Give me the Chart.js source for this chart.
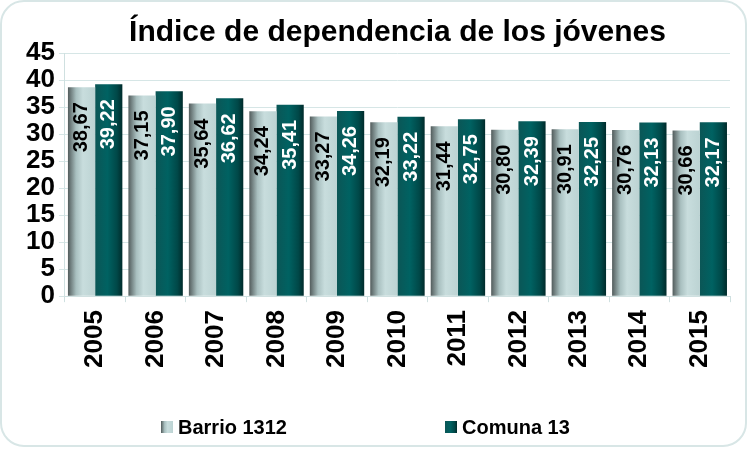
<!DOCTYPE html>
<html>
<head>
<meta charset="utf-8">
<script src="https://cdn.jsdelivr.net/npm/chart.js@4"></script>
<style>
  html, body { margin: 0; padding: 0; background: #fff; }
  #wrap { position: relative; width: 750px; height: 449px; }
  #frame { position: absolute; left: 0; top: 0; width: 743px; height: 443px;
           border: 2px solid #d8e6e6; border-radius: 24px; pointer-events: none; }
</style>
</head>
<body>
<div id="wrap">
  <canvas id="barChart" width="750" height="449"></canvas>
  <div id="frame"></div>
</div>
<script>
const CHART = document.getElementById("barChart");

const years = ["2005", "2006", "2007", "2008", "2009", "2010", "2011", "2012", "2013", "2014", "2015"];
const barrio = [38.67, 37.15, 35.64, 34.24, 33.27, 32.19, 31.44, 30.80, 30.91, 30.76, 30.66];
const comuna = [39.22, 37.90, 36.62, 35.41, 34.26, 33.22, 32.75, 32.39, 32.25, 32.13, 32.17];
const seriesNames = ["Barrio 1312", "Comuna 13"];

// gradient stops for each series (left to right across a bar)
const gradStops = [
    [[0, "#525c5c"], [0.3, "#a9c0c0"], [0.55, "#c8dddd"], [1, "#bcd3d3"]],
    [[0, "#0b5656"], [0.45, "#006262"], [0.8, "#004848"], [1, "#002b2b"]]
];
const labelColors = ["#000", "#fff"];

function makeGrad(ctx, x0, x1, stops) {
    const g = ctx.createLinearGradient(x0, 0, x1, 0);
    stops.forEach(s => g.addColorStop(s[0], s[1]));
    return g;
}

const fmt = v => v.toFixed(2).replace(".", ",");

// paint each bar with a horizontal gradient
const gradientBars = {
    id: "gradientBars",
    beforeDatasetsDraw(chart) {
        const ctx = chart.ctx;
        chart.data.datasets.forEach((ds, i) => {
            chart.getDatasetMeta(i).data.forEach(el => {
                const x0 = el.x - el.width / 2, x1 = el.x + el.width / 2;
                el.options = Object.assign({}, el.options, { backgroundColor: makeGrad(ctx, x0, x1, gradStops[i]) });
            });
        });
    }
};

// vertical value labels inside the bars
const barLabels = {
    id: "barLabels",
    afterDatasetsDraw(chart) {
        const ctx = chart.ctx;
        chart.data.datasets.forEach((ds, i) => {
            chart.getDatasetMeta(i).data.forEach((el, j) => {
                ctx.save();
                ctx.translate(el.x, el.y + 15);
                ctx.rotate(-Math.PI / 2);
                ctx.font = "bold 20px 'Liberation Sans', Arial, sans-serif";
                ctx.fillStyle = labelColors[i];
                ctx.textAlign = "right";
                ctx.textBaseline = "middle";
                ctx.fillText(fmt(ds.data[j]), 0, 0);
                ctx.restore();
            });
        });
    }
};

// legend at the bottom, spaced like the original
const bottomLegend = {
    id: "bottomLegend",
    afterDraw(chart) {
        const ctx = chart.ctx;
        const starts = [161, 445];
        const y = 427;
        chart.data.datasets.forEach((ds, i) => {
            const x = starts[i];
            ctx.save();
            ctx.fillStyle = makeGrad(ctx, x, x + 12, gradStops[i]);
            ctx.fillRect(x, y - 6, 12, 12);
            ctx.font = "bold 20px 'Liberation Sans', Arial, sans-serif";
            ctx.fillStyle = "#000";
            ctx.textAlign = "left";
            ctx.textBaseline = "middle";
            ctx.fillText(ds.label, x + 17, y + 1);
            ctx.restore();
        });
    }
};

const barChart = new Chart(CHART, {
    type: "bar",
    data: {
        labels: years,
        datasets: [
            { label: seriesNames[0], data: barrio, backgroundColor: "#c8dddd", borderWidth: 0 },
            { label: seriesNames[1], data: comuna, backgroundColor: "#006262", borderWidth: 0 }
        ]
    },
    options: {
        responsive: false,
        animation: false,
        layout: { padding: { left: 22, right: 20, top: 0, bottom: 73 } },
        datasets: { bar: { categoryPercentage: 0.9, barPercentage: 1.0 } },
        plugins: {
            legend: { display: false },
            tooltip: { enabled: false },
            title: {
                display: true,
                text: "Índice de dependencia de los jóvenes",
                color: "#000",
                fullSize: false,
                font: { family: "'Liberation Sans', Arial, sans-serif", size: 30, weight: "bold", lineHeight: 1.0 },
                padding: { top: 18, bottom: 5 }
            }
        },
        scales: {
            x: {
                grid: { display: true, drawOnChartArea: false, offset: true, color: "#cfe0e0", tickLength: 6 },
                border: { color: "#cfe0e0" },
                ticks: {
                    color: "#000",
                    minRotation: 90,
                    maxRotation: 90,
                    padding: 8,
                    font: { family: "'Liberation Sans', Arial, sans-serif", size: 26, weight: "bold" }
                }
            },
            y: {
                min: 0,
                max: 45,
                grid: { color: "#d6e6e6", tickLength: 6 },
                border: { color: "#cfe0e0" },
                ticks: {
                    stepSize: 5,
                    autoSkip: false,
                    color: "#000",
                    padding: 4,
                    font: { family: "'Liberation Sans', Arial, sans-serif", size: 26, weight: "bold", lineHeight: 1.0 }
                }
            }
        }
    },
    plugins: [gradientBars, barLabels, bottomLegend]
});
</script>
</body>
</html>
